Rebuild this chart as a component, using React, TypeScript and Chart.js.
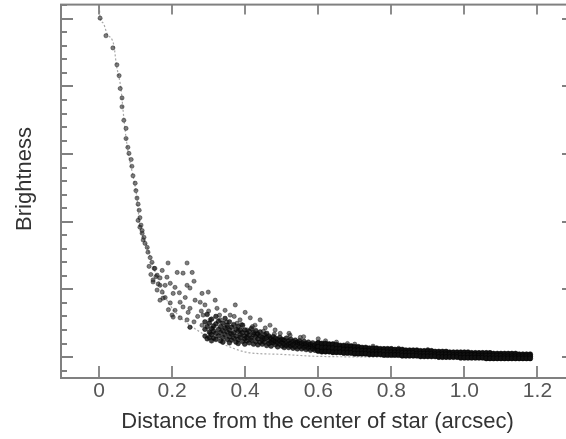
import { useEffect, useRef } from "react";
import { Chart, registerables } from "chart.js";
Chart.register(...registerables);

const FONT = '"Liberation Sans", Arial, Helvetica, sans-serif';

const xTickValues = [0, 0.2, 0.4, 0.6, 0.8, 1.0, 1.2];
const xTickLabels = ["0", "0.2", "0.4", "0.6", "0.8", "1.0", "1.2"];
const yTickValues = [-0.2, 0, 0.2, 0.4, 0.6, 0.8, 1, 1.2, 1.4, 1.6, 1.8, 2, 2.2, 2.4, 2.6, 2.8, 3, 3.2, 3.4, 3.6, 3.8, 4, 4.2, 4.4, 4.6, 4.8, 5, 5.2];
const yMajorValues = [0, 1, 2, 3, 4, 5];

const xTitle = "Distance from the center of star (arcsec)";
const yTitle = "Brightness";

// model profile (dotted line)
const modelX = [0, 0.003, 0.011, 0.022, 0.041, 0.047, 0.06, 0.068, 0.074, 0.082, 0.093, 0.104, 0.112, 0.121, 0.132, 0.145, 0.159, 0.186, 0.222, 0.268, 0.332, 0.405, 0.496, 0.6, 0.8, 1.0, 1.18];
const modelY = [5.3, 5.01, 4.94, 4.78, 4.6, 4.34, 3.97, 3.53, 3.24, 2.96, 2.68, 2.35, 1.92, 1.77, 1.62, 1.39, 1.18, 0.84, 0.59, 0.4, 0.21, 0.07, 0.04, 0.01, 0.0, -0.01, -0.01];

// steep inner part
const steepPts: [number, number][] = [
  [0.003, 5.01], [0.019, 4.75], [0.038, 4.57], [0.049, 4.32], [0.055, 4.16], [0.058, 3.97], [0.063, 3.83], [0.063, 3.7],
  [0.068, 3.5], [0.074, 3.38], [0.074, 3.23], [0.079, 3.1], [0.082, 3.01], [0.088, 2.92], [0.09, 2.82], [0.093, 2.68],
  [0.099, 2.57], [0.101, 2.46], [0.104, 2.35], [0.107, 2.26], [0.11, 2.17], [0.107, 2.02], [0.112, 2.06], [0.112, 1.92],
  [0.115, 1.95], [0.118, 1.87], [0.118, 1.83], [0.123, 1.77], [0.121, 1.73], [0.126, 1.68], [0.132, 1.62], [0.134, 1.55],
  [0.14, 1.47], [0.145, 1.4], [0.137, 1.34], [0.151, 1.31], [0.142, 1.22], [0.156, 1.19], [0.148, 1.11], [0.162, 1.08],
  [0.153, 1.31], [0.159, 1.21], [0.148, 1.14], [0.167, 1.06], [0.173, 0.96], [0.181, 0.88], [0.195, 0.8], [0.208, 0.69],
  [0.2, 0.62], [0.222, 0.58], [0.249, 0.44], [0.241, 0.55], [0.167, 1.17],
];

// scattered cloud
const cloudPts: [number, number][] = [
  [0.189, 1.39], [0.241, 1.39], [0.255, 1.25], [0.214, 1.25], [0.23, 1.24], [0.173, 1.28], [0.186, 1.18], [0.195, 1.09],
  [0.241, 1.06], [0.249, 1.02], [0.299, 0.96], [0.282, 0.94], [0.159, 0.99], [0.203, 0.94], [0.175, 0.87], [0.222, 0.81],
  [0.277, 0.81], [0.323, 0.72], [0.249, 0.72], [0.203, 0.59], [0.244, 0.66], [0.285, 0.62], [0.304, 0.55], [0.332, 0.55],
  [0.386, 0.55], [0.249, 0.44], [0.282, 0.47], [0.312, 0.43], [0.351, 0.44], [0.378, 0.5], [0.405, 0.4], [0.304, 0.35],
  [0.359, 0.35], [0.433, 0.35], [0.468, 0.29], [0.504, 0.25], [0.542, 0.22], [0.578, 0.18], [0.614, 0.15], [0.181, 1.06],
  [0.208, 1.03], [0.167, 0.84], [0.236, 0.88], [0.263, 0.84], [0.29, 0.77], [0.318, 0.84], [0.345, 0.69], [0.359, 0.62],
  [0.373, 0.77], [0.4, 0.66], [0.414, 0.58], [0.427, 0.47], [0.441, 0.55], [0.455, 0.43], [0.468, 0.47], [0.482, 0.4],
  [0.496, 0.35], [0.523, 0.32], [0.551, 0.29], [0.52, 0.35], [0.56, 0.3], [0.6, 0.27], [0.65, 0.22], [0.7, 0.19],
  [0.27, 0.6], [0.26, 0.52], [0.23, 0.74], [0.22, 0.95], [0.26, 1.12], [0.19, 0.7], [0.28, 0.68], [0.3, 0.68],
  [0.33, 0.62], [0.35, 0.52], [0.37, 0.6], [0.39, 0.48], [0.42, 0.45], [0.45, 0.38], [0.48, 0.34], [0.62, 0.24],
  [0.68, 0.2], [0.75, 0.16], [0.82, 0.13], [0.9, 0.11],
];

// dense part 0.29 - 0.60
const midPts: [number, number][] = [
  [0.29, 0.52], [0.29, 0.31], [0.29, 0.41], [0.296, 0.45], [0.296, 0.27], [0.296, 0.63], [0.302, 0.37], [0.302, 0.5],
  [0.302, 0.29], [0.308, 0.56], [0.308, 0.42], [0.308, 0.33], [0.308, 0.24], [0.314, 0.46], [0.314, 0.28], [0.314, 0.38],
  [0.32, 0.6], [0.32, 0.35], [0.32, 0.49], [0.32, 0.26], [0.327, 0.41], [0.327, 0.31], [0.327, 0.53], [0.333, 0.45],
  [0.333, 0.24], [0.333, 0.36], [0.339, 0.5], [0.339, 0.29], [0.339, 0.39], [0.339, 0.22], [0.345, 0.43], [0.345, 0.33],
  [0.345, 0.57], [0.351, 0.37], [0.351, 0.26], [0.351, 0.47], [0.357, 0.4], [0.357, 0.3], [0.357, 0.21], [0.357, 0.52],
  [0.363, 0.44], [0.363, 0.34], [0.363, 0.25], [0.369, 0.36], [0.369, 0.28], [0.369, 0.48], [0.375, 0.41], [0.375, 0.22],
  [0.375, 0.31], [0.381, 0.38], [0.381, 0.26], [0.381, 0.45], [0.381, 0.2], [0.387, 0.33], [0.387, 0.29], [0.387, 0.4],
  [0.393, 0.36], [0.393, 0.23], [0.393, 0.47], [0.399, 0.31], [0.399, 0.27], [0.399, 0.4], [0.399, 0.19], [0.405, 0.35],
  [0.405, 0.24], [0.405, 0.29], [0.411, 0.38], [0.411, 0.21], [0.411, 0.32], [0.417, 0.28], [0.417, 0.42], [0.417, 0.25],
  [0.423, 0.33], [0.423, 0.19], [0.423, 0.36], [0.429, 0.3], [0.429, 0.23], [0.429, 0.39], [0.435, 0.27], [0.435, 0.34],
  [0.435, 0.18], [0.441, 0.31], [0.441, 0.22], [0.441, 0.37], [0.447, 0.25], [0.447, 0.29], [0.447, 0.19], [0.453, 0.33],
  [0.453, 0.22], [0.453, 0.27], [0.459, 0.29], [0.459, 0.17], [0.459, 0.35], [0.465, 0.24], [0.465, 0.31], [0.465, 0.2],
  [0.471, 0.27], [0.471, 0.16], [0.471, 0.22], [0.477, 0.3], [0.477, 0.21], [0.477, 0.25], [0.483, 0.23], [0.483, 0.18],
  [0.483, 0.28], [0.489, 0.26], [0.489, 0.15], [0.489, 0.21], [0.495, 0.29], [0.495, 0.19], [0.495, 0.24], [0.501, 0.22],
  [0.501, 0.16], [0.501, 0.26], [0.507, 0.25], [0.507, 0.14], [0.507, 0.19], [0.513, 0.21], [0.513, 0.28], [0.513, 0.17],
  [0.519, 0.24], [0.519, 0.14], [0.519, 0.19], [0.525, 0.2], [0.525, 0.26], [0.525, 0.16], [0.531, 0.23], [0.531, 0.13],
  [0.531, 0.18], [0.537, 0.21], [0.537, 0.15], [0.537, 0.25], [0.543, 0.18], [0.543, 0.12], [0.543, 0.22], [0.549, 0.2],
  [0.549, 0.15], [0.549, 0.24], [0.555, 0.17], [0.555, 0.12], [0.555, 0.21], [0.561, 0.19], [0.561, 0.14], [0.561, 0.23],
  [0.567, 0.16], [0.567, 0.11], [0.567, 0.2], [0.573, 0.18], [0.573, 0.13], [0.573, 0.22], [0.579, 0.15], [0.579, 0.1],
  [0.579, 0.19], [0.585, 0.17], [0.585, 0.12], [0.585, 0.21], [0.591, 0.14], [0.591, 0.1], [0.591, 0.18], [0.597, 0.16],
  [0.597, 0.11], [0.597, 0.2],
];

// dense tail 0.60 - 1.18 (three rows)
const bandX = [0.6, 0.61, 0.62, 0.63, 0.64, 0.65, 0.66, 0.67, 0.68, 0.69, 0.7, 0.71, 0.72, 0.73, 0.74, 0.75, 0.76, 0.77, 0.78, 0.79, 0.8, 0.81, 0.82, 0.83, 0.84, 0.85, 0.86, 0.87, 0.88, 0.89, 0.9, 0.91, 0.92, 0.93, 0.94, 0.95, 0.96, 0.97, 0.98, 0.99, 1.0, 1.01, 1.02, 1.03, 1.04, 1.05, 1.06, 1.07, 1.08, 1.09, 1.1, 1.11, 1.12, 1.13, 1.14, 1.15, 1.16, 1.17, 1.18];
const bandUpper = [0.21, 0.2, 0.2, 0.19, 0.19, 0.18, 0.17, 0.17, 0.16, 0.16, 0.15, 0.15, 0.14, 0.14, 0.13, 0.13, 0.13, 0.12, 0.12, 0.12, 0.12, 0.11, 0.11, 0.11, 0.1, 0.1, 0.1, 0.1, 0.09, 0.09, 0.09, 0.09, 0.08, 0.08, 0.08, 0.08, 0.07, 0.07, 0.07, 0.07, 0.07, 0.07, 0.06, 0.06, 0.06, 0.06, 0.06, 0.06, 0.05, 0.05, 0.05, 0.05, 0.05, 0.05, 0.05, 0.04, 0.04, 0.04, 0.04];
const bandMid = [0.15, 0.14, 0.14, 0.13, 0.13, 0.12, 0.12, 0.11, 0.11, 0.11, 0.1, 0.1, 0.09, 0.09, 0.09, 0.08, 0.08, 0.08, 0.08, 0.07, 0.07, 0.07, 0.07, 0.06, 0.06, 0.06, 0.06, 0.05, 0.05, 0.05, 0.05, 0.05, 0.04, 0.04, 0.04, 0.04, 0.04, 0.03, 0.03, 0.03, 0.03, 0.03, 0.03, 0.03, 0.02, 0.02, 0.02, 0.02, 0.02, 0.02, 0.02, 0.01, 0.01, 0.01, 0.01, 0.01, 0.01, 0.01, 0.01];
const bandLower = [0.09, 0.08, 0.08, 0.08, 0.07, 0.07, 0.07, 0.06, 0.06, 0.06, 0.05, 0.05, 0.05, 0.05, 0.04, 0.04, 0.04, 0.04, 0.03, 0.03, 0.03, 0.03, 0.03, 0.02, 0.02, 0.02, 0.02, 0.02, 0.01, 0.01, 0.01, 0.01, 0.01, 0.0, 0.0, 0.0, 0.0, 0.0, 0.0, -0.01, -0.01, -0.01, -0.01, -0.01, -0.01, -0.01, -0.02, -0.02, -0.02, -0.02, -0.02, -0.02, -0.02, -0.02, -0.02, -0.02, -0.02, -0.02, -0.02];

const framePlugin = {
  id: "frame",
  afterDatasetsDraw(chart: any) {
    const { ctx, chartArea: a, scales } = chart;
    ctx.save();
    ctx.strokeStyle = "#808080";
    ctx.lineWidth = 2;
    ctx.strokeRect(a.left, a.top, a.right - a.left, a.bottom - a.top);
    ctx.lineWidth = 1.8;
    ctx.beginPath();
    for (const v of xTickValues) {
      const px = Math.round(scales.x.getPixelForValue(v));
      ctx.moveTo(px, a.bottom);
      ctx.lineTo(px, a.bottom - 12);
      ctx.moveTo(px, a.top);
      ctx.lineTo(px, a.top + 10);
    }
    for (const t of scales.y.ticks) {
      const py = Math.round(scales.y.getPixelForValue(t.value));
      const major = yMajorValues.some((m) => Math.abs(m - t.value) < 1e-6);
      const len = major ? 12 : 6;
      ctx.moveTo(a.left, py);
      ctx.lineTo(a.left + len, py);
      ctx.moveTo(a.right, py);
      ctx.lineTo(a.right - len, py);
    }
    ctx.stroke();
    ctx.translate(25, 179);
    ctx.rotate(-Math.PI / 2);
    ctx.font = `22px ${FONT}`;
    ctx.fillStyle = "#333";
    ctx.textAlign = "center";
    ctx.textBaseline = "middle";
    ctx.fillText(yTitle, 0, 0);
    ctx.restore();
  },
};

export default function App() {
  const ref = useRef<HTMLCanvasElement>(null);
  useEffect(() => {
    const inner: { x: number; y: number }[] = [];
    steepPts.forEach(([x, y]) => inner.push({ x, y }));
    cloudPts.forEach(([x, y]) => inner.push({ x, y }));
    const mid: { x: number; y: number }[] = [];
    midPts.forEach(([x, y]) => mid.push({ x, y }));
    const tail: { x: number; y: number }[] = [];
    bandX.forEach((x, i) => {
      tail.push({ x, y: bandUpper[i] }, { x, y: bandMid[i] }, { x, y: bandLower[i] });
    });
    const model = modelX.map((x, i) => ({ x, y: modelY[i] }));
    const chart = new Chart(ref.current!, {
      type: "scatter",
      data: {
        datasets: [
          {
            data: tail,
            pointRadius: 2.6,
            pointBackgroundColor: "#111",
            pointBorderColor: "#000",
            pointBorderWidth: 0.5,
            showLine: false,
          },
          {
            data: mid,
            pointRadius: 2.4,
            pointBackgroundColor: "rgba(15,15,15,0.8)",
            pointBorderColor: "rgba(0,0,0,0.8)",
            pointBorderWidth: 0.5,
            showLine: false,
          },
          {
            data: inner,
            pointRadius: 2.1,
            pointBackgroundColor: "rgba(40,40,40,0.6)",
            pointBorderColor: "rgba(15,15,15,0.7)",
            pointBorderWidth: 0.6,
            showLine: false,
          },
          {
            data: model,
            showLine: true,
            pointRadius: 0,
            borderColor: "#a8a8a8",
            borderWidth: 1.2,
            borderDash: [2, 2],
            cubicInterpolationMode: "monotone",
          } as any,
        ],
      },
      options: {
        responsive: false,
        animation: false,
        layout: { padding: { top: 4, right: 6, left: 0, bottom: 0 } },
        plugins: { legend: { display: false }, tooltip: { enabled: false } },
        scales: {
          x: {
            type: "linear",
            min: -0.104,
            max: 1.3,
            afterBuildTicks: (s: any) => {
              s.ticks = xTickValues.map((v) => ({ value: v }));
            },
            afterFit: (s: any) => {
              s.height = 61;
            },
            ticks: {
              callback: (v: any) => {
                const i = xTickValues.findIndex((t) => Math.abs(t - Number(v)) < 1e-6);
                return i >= 0 ? xTickLabels[i] : "";
              },
              font: { family: FONT, size: 21 },
              color: "#555",
              padding: 1,
              maxRotation: 0,
              autoSkip: false,
            },
            grid: { display: false, drawTicks: false },
            border: { display: false },
            title: {
              display: true,
              text: xTitle,
              font: { family: FONT, size: 22 },
              color: "#333",
              padding: { top: 0, bottom: 4 },
            },
          },
          y: {
            type: "linear",
            min: -0.31,
            max: 5.21,
            afterBuildTicks: (s: any) => {
              s.ticks = yTickValues.map((v) => ({ value: v }));
            },
            afterFit: (s: any) => {
              s.width = 61;
            },
            ticks: { display: false },
            grid: { display: false, drawTicks: false },
            border: { display: false },
          },
        },
      },
      plugins: [framePlugin],
    });
    return () => chart.destroy();
  }, []);
  return (
    <div style={{ position: "fixed", left: 0, top: 0, width: 566, height: 439, overflow: "hidden", background: "#fff" }}>
      <canvas ref={ref} width={580} height={439} style={{ width: 580, height: 439, display: "block" }} />
    </div>
  );
}
